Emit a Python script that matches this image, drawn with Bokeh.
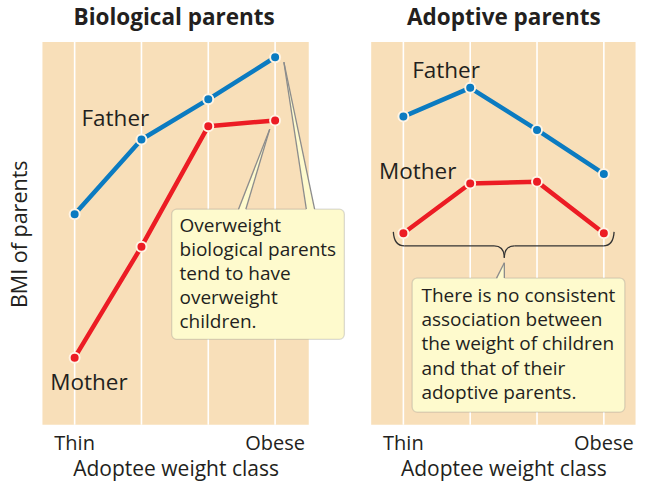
import math
from bokeh.plotting import figure
from bokeh.models import Range1d, BoxAnnotation, Label
from bokeh.embed import file_html
from bokeh.resources import INLINE

# ---------------- data ----------------
categories = ["Thin", "Light", "Heavy", "Obese"]   # adoptee weight classes
cat_idx = [0, 1, 2, 3]
tick_labels = {0: "Thin", 3: "Obese"}
# BMI of parents (relative index, no scale shown in the original)
bio_father = [55.0, 74.5, 85.0, 96.0]
bio_mother = [17.5, 46.5, 78.0, 79.5]
adopt_father = [80.5, 88.0, 77.0, 65.5]
adopt_mother = [50.0, 63.0, 63.5, 50.0]
VAL_MIN, VAL_MAX = 0.0, 100.0

titles = ["Biological parents", "Adoptive parents"]
x_title = "Adoptee weight class"
y_title = "BMI of parents"
note_bio = ["Overweight", "biological parents", "tend to have", "overweight", "children."]
note_adopt = ["There is no consistent", "association between",
              "the weight of children", "and that of their", "adoptive parents."]

# ---------------- styling / layout ----------------
W, H = 637, 481
PX_X = (0.0, 653.0)      # layout-coordinate window shown on the canvas
PX_Y = (499.0, 0.0)      # (bottom, top) – layout y grows downward
SY = H / (PX_Y[0] - PX_Y[1])
PANEL_TOP, PANEL_BOTTOM = 43.0, 440.0
LEFT_X = (43.0, 316.0)
RIGHT_X = (380.0, 651.0)
CAT_OFFSET, CAT_STEP = 33.0, 68.5
BASELINE_FIX = 0.36      # em offset compensating label box placement

TAN = "#f8dfb9"
BLUE = "#0b7bc1"
RED = "#ec1c24"
HALO = "#fff4e4"
YELLOW = "#fefacd"
BOX_LINE = "#8c8c8c"
TEXT = "#231f20"
FONT = "Open Sans"


def cat_range(panel_left):
    first = panel_left + CAT_OFFSET
    return Range1d((PX_X[0] - first) / CAT_STEP, (PX_X[1] - first) / CAT_STEP)


k = (VAL_MAX - VAL_MIN) / (PANEL_BOTTOM - PANEL_TOP)
y_range = Range1d(VAL_MIN + (PANEL_BOTTOM - PX_Y[0]) * k, VAL_MIN + (PANEL_BOTTOM - PX_Y[1]) * k)

p = figure(width=W, height=H, x_range=cat_range(LEFT_X[0]), y_range=y_range,
           output_backend="svg", toolbar_location=None, title=None,
           x_axis_location=None, y_axis_location=None, min_border=0,
           background_fill_color="white", border_fill_color="white",
           outline_line_color=None)
p.grid.visible = False
p.extra_x_ranges = {"right": cat_range(RIGHT_X[0]), "px": Range1d(*PX_X)}
p.extra_y_ranges = {"px": Range1d(*PX_Y)}

PX = dict(x_range_name="px", y_range_name="px")

# panel backgrounds
for (x0, x1) in (LEFT_X, RIGHT_X):
    p.add_layout(BoxAnnotation(left=x0, right=x1, top=PANEL_TOP, bottom=PANEL_BOTTOM,
                               fill_color=TAN, fill_alpha=1, line_color=None,
                               level="underlay", **PX))

# category grid lines
for rng in ("default", "right"):
    p.segment(x0=cat_idx, y0=[VAL_MIN] * 4, x1=cat_idx, y1=[VAL_MAX] * 4,
              line_color="white", line_width=1.6, x_range_name=rng)

# series
series = [("default", bio_father, BLUE), ("default", bio_mother, RED),
          ("right", adopt_father, BLUE), ("right", adopt_mother, RED)]
for rng, vals, col in series:
    p.line(cat_idx, vals, line_color=col, line_width=4.5, x_range_name=rng)
for rng, vals, col in series:
    p.scatter(cat_idx, vals, size=10, fill_color=col, line_color=HALO,
              line_width=2, x_range_name=rng)


def label(x, y, text, size=20.0, align="left", style="normal", xr="px"):
    """Place text with its baseline at layout y."""
    y_adj = y - BASELINE_FIX * size / SY
    p.add_layout(Label(x=x, y=y_adj, text=text, text_font=FONT,
                       text_font_size=f"{size}px", text_color=TEXT,
                       text_align=align, text_baseline="alphabetic",
                       text_font_style=style, x_range_name=xr, y_range_name="px"))


# titles
label(178, 25.5, titles[0], size=22.5, align="center", style="bold")
label(516, 25.5, titles[1], size=22.5, align="center", style="bold")

# tick labels and axis titles
for rng, cx in (("default", LEFT_X), ("right", RIGHT_X)):
    for i, t in tick_labels.items():
        label(i, 466.5, t, size=20.0, align="center", xr=rng)
    label((cx[0] + cx[1]) / 2 + 0.5, 493, x_title, size=21.0, align="center")

p.add_layout(Label(x=18.5, y=242.5, text=y_title, text_font=FONT,
                   text_font_size="21.5px", text_color=TEXT, text_align="center",
                   text_baseline="middle", angle=math.pi / 2, **PX))

# series names
label(83, 129.5, "Father", size=22.5)
label(51, 403.5, "Mother", size=22.5)
label(422, 80, "Father", size=22.5)
label(388, 184.5, "Mother", size=22.5)


# callouts
def callout(left, right, top, bottom, pointers, lines, tx, first_base, step):
    p.add_layout(BoxAnnotation(left=left, right=right, top=top, bottom=bottom,
                               fill_color=YELLOW, fill_alpha=1, line_color=BOX_LINE,
                               line_width=1.3, border_radius=5, **PX))
    for (b0, b1, tipx, tipy) in pointers:
        p.patch([b0, tipx, b1], [top + 1.6, tipy, top + 1.6], fill_color=YELLOW,
                line_color=None, level="overlay", **PX)
        p.multi_line([[b0, tipx], [b1, tipx]], [[top, tipy], [top, tipy]],
                     line_color=BOX_LINE, line_width=1.3, level="overlay", **PX)
    for j, t in enumerate(lines):
        label(tx, first_base + j * step, t, size=19.0)


callout(175.5, 352.5, 216.5, 351.5,
        [(244.0, 251.5, 276.0, 133.5), (313.5, 322.0, 290.5, 64.0)],
        note_bio, 183.5, 240.0, 25.0)
callout(422.0, 640.0, 288.0, 427.0,
        [(508.5, 516.5, 516.5, 272.0)],
        note_adopt, 431.5, 312.5, 25.2)

# curly brace grouping the adoptive-parent points
BR = dict(line_color="#333333", line_width=1.3, **PX)
p.quadratic(x0=[402.7, 506.0, 527.0, 629.0], y0=[240.0, 254.5, 254.5, 240.0],
            x1=[414.0, 516.5, 516.5, 618.0], y1=[254.5, 267.0, 267.0, 254.5],
            cx=[403.5, 516.5, 516.5, 628.2], cy=[254.5, 254.5, 254.5, 254.5], **BR)
p.segment(x0=[414.0, 527.0], y0=[254.5, 254.5], x1=[506.0, 618.0], y1=[254.5, 254.5], **BR)

open("out.html", "w").write(file_html(p, INLINE))
